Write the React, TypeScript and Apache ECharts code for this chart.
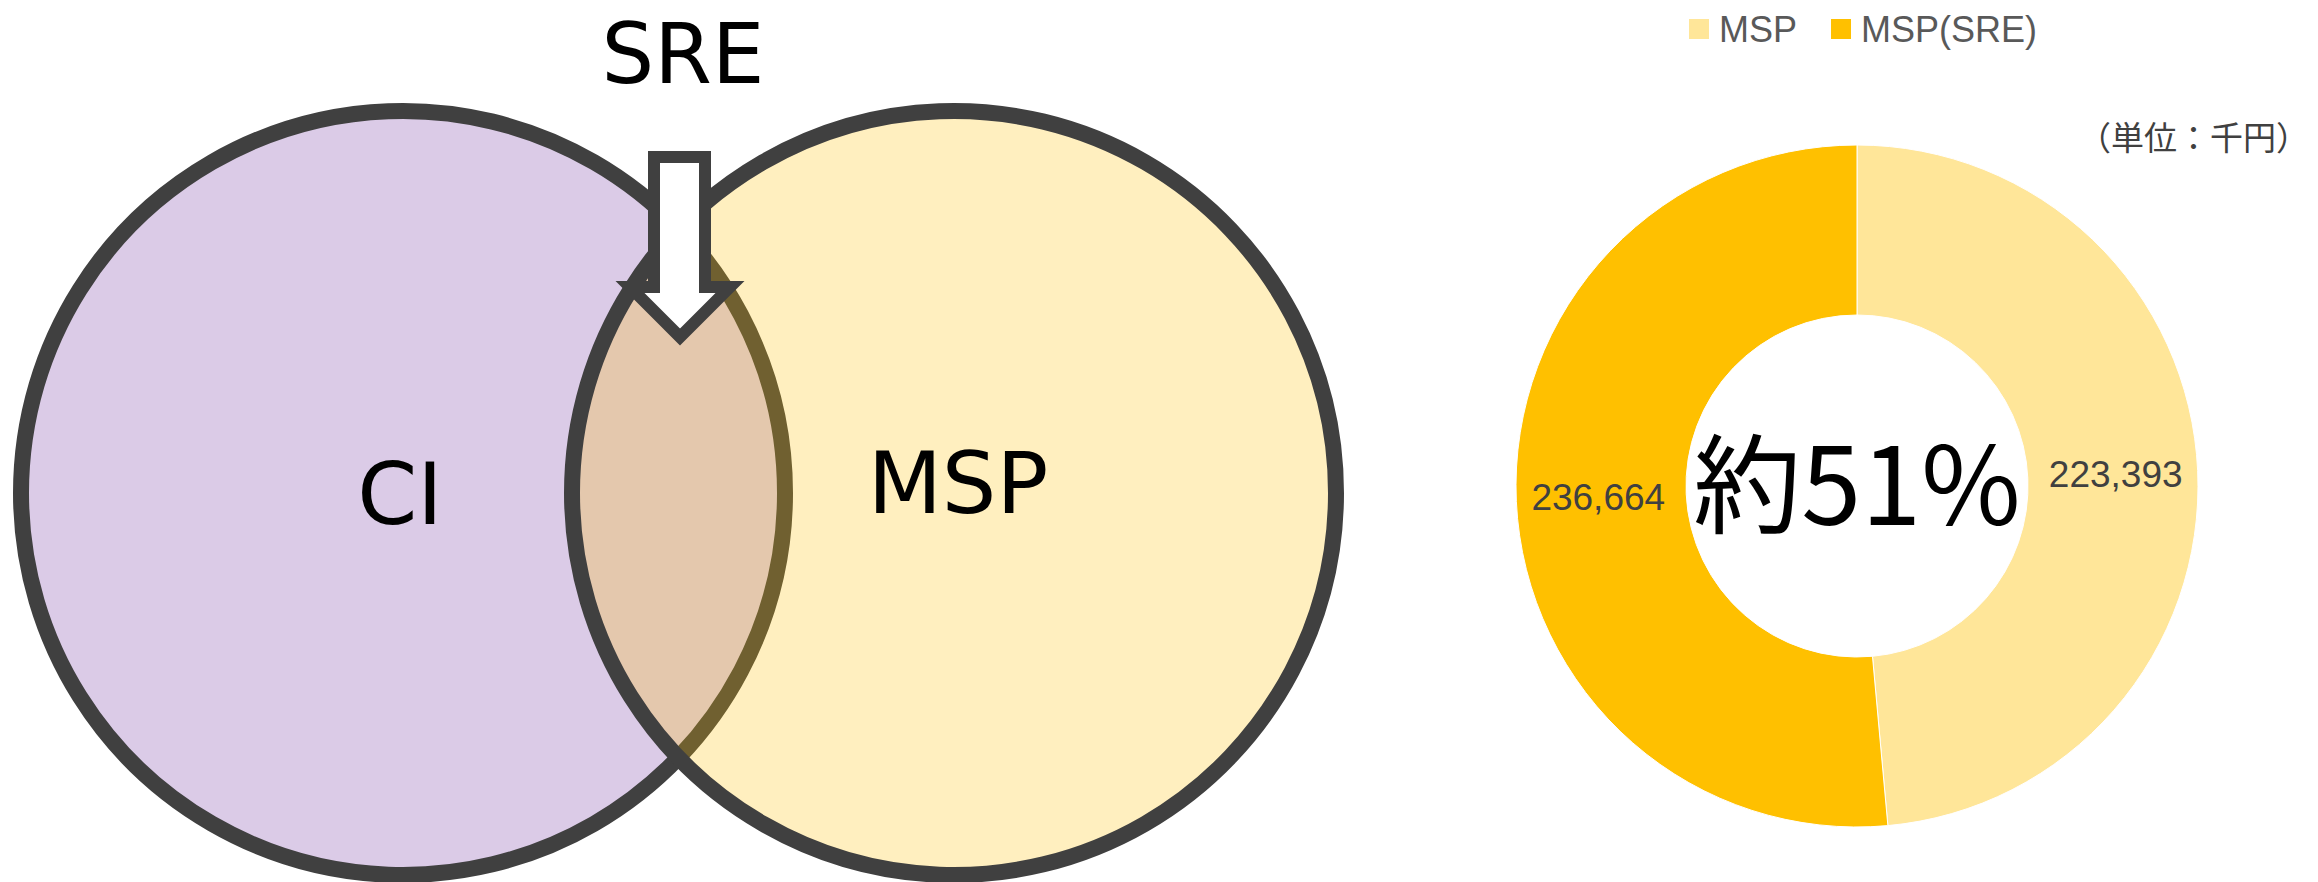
import React, { useEffect, useRef } from "react";
import * as echarts from "echarts";

const donutNames = ["MSP", "MSP(SRE)"];
const donutValues = [223393, 236664];
const donutColors = ["#FFE699", "#FFC000"];
const vennLabels = ["CI", "MSP"];
const arrowLabel = "SRE";
const unitLabel = "（単位：千円）";

export default function App() {
  const ref = useRef<HTMLDivElement>(null);

  useEffect(() => {
    if (!ref.current) return;
    const chart = echarts.init(ref.current, undefined, { renderer: "svg" });
    const total = donutValues.reduce((a, b) => a + b, 0);
    const share = Math.round((donutValues[1] / total) * 100);

    const border = "#404040";
    const vennFont = "DejaVu Sans";

    chart.setOption({
      animation: false,
      backgroundColor: "#ffffff",
      legend: {
        top: 6,
        left: 1682,
        itemWidth: 22,
        itemHeight: 22,
        itemGap: 32,
        icon: "rect",
        data: donutNames,
        textStyle: {
          fontFamily: "Liberation Sans",
          fontSize: 36,
          color: "#595959",
          padding: [0, 0, 0, 4],
        },
      },
      series: [
        {
          type: "pie",
          center: [1857, 486],
          radius: [171, 341],
          startAngle: 90,
          clockwise: true,
          silent: true,
          itemStyle: { borderColor: "#ffffff", borderWidth: 1 },
          label: {
            show: true,
            position: "inside",
            fontFamily: "Liberation Sans",
            fontSize: 37,
            color: "#404040",
            formatter: (p: any) => Number(p.value).toLocaleString("en-US"),
          },
          labelLine: { show: false },
          emphasis: { disabled: true },
          data: donutNames.map((n, i) => ({
            name: n,
            value: donutValues[i],
            itemStyle: { color: donutColors[i] },
          })),
        },
      ],
      graphic: [
        {
          type: "circle",
          shape: { cx: 403, cy: 493, r: 382 },
          style: { fill: "rgba(112,48,160,0.25)", stroke: border, lineWidth: 16 },
          z: 1,
        },
        {
          type: "circle",
          shape: { cx: 954, cy: 493, r: 382 },
          style: { fill: "rgba(255,192,0,0.25)", stroke: border, lineWidth: 16 },
          z: 2,
        },
        {
          type: "polygon",
          shape: {
            points: [
              [654, 157],
              [705, 157],
              [705, 287],
              [730, 287],
              [680, 337],
              [630, 287],
              [654, 287],
            ],
          },
          style: { fill: "#ffffff", stroke: border, lineWidth: 12, lineJoin: "miter" },
          z: 3,
        },
        {
          type: "text",
          x: 400,
          y: 494,
          style: {
            text: vennLabels[0],
            font: `86px "${vennFont}"`,
            fill: "#000000",
            align: "center",
            verticalAlign: "middle",
          },
          z: 4,
        },
        {
          type: "text",
          x: 958,
          y: 483,
          style: {
            text: vennLabels[1],
            font: `86px "${vennFont}"`,
            fill: "#000000",
            align: "center",
            verticalAlign: "middle",
          },
          z: 4,
        },
        {
          type: "text",
          x: 683,
          y: 54,
          style: {
            text: arrowLabel,
            font: `83px "${vennFont}"`,
            fill: "#000000",
            align: "center",
            verticalAlign: "middle",
          },
          z: 4,
        },
        {
          type: "text",
          x: 1857,
          y: 478,
          style: {
            text: `約${share}%`,
            font: `108px "Noto Sans CJK JP"`,
            fill: "#000000",
            align: "center",
            verticalAlign: "middle",
          },
          z: 10,
        },
        {
          type: "text",
          x: 2309,
          y: 136,
          style: {
            text: unitLabel,
            font: `33px "Noto Sans CJK JP"`,
            fill: "#404040",
            align: "right",
            verticalAlign: "middle",
          },
          z: 10,
        },
      ],
    });

    return () => chart.dispose();
  }, []);

  return (
    <div
      ref={ref}
      style={{ position: "fixed", left: 0, top: 0, width: 2318, height: 882 }}
    />
  );
}
